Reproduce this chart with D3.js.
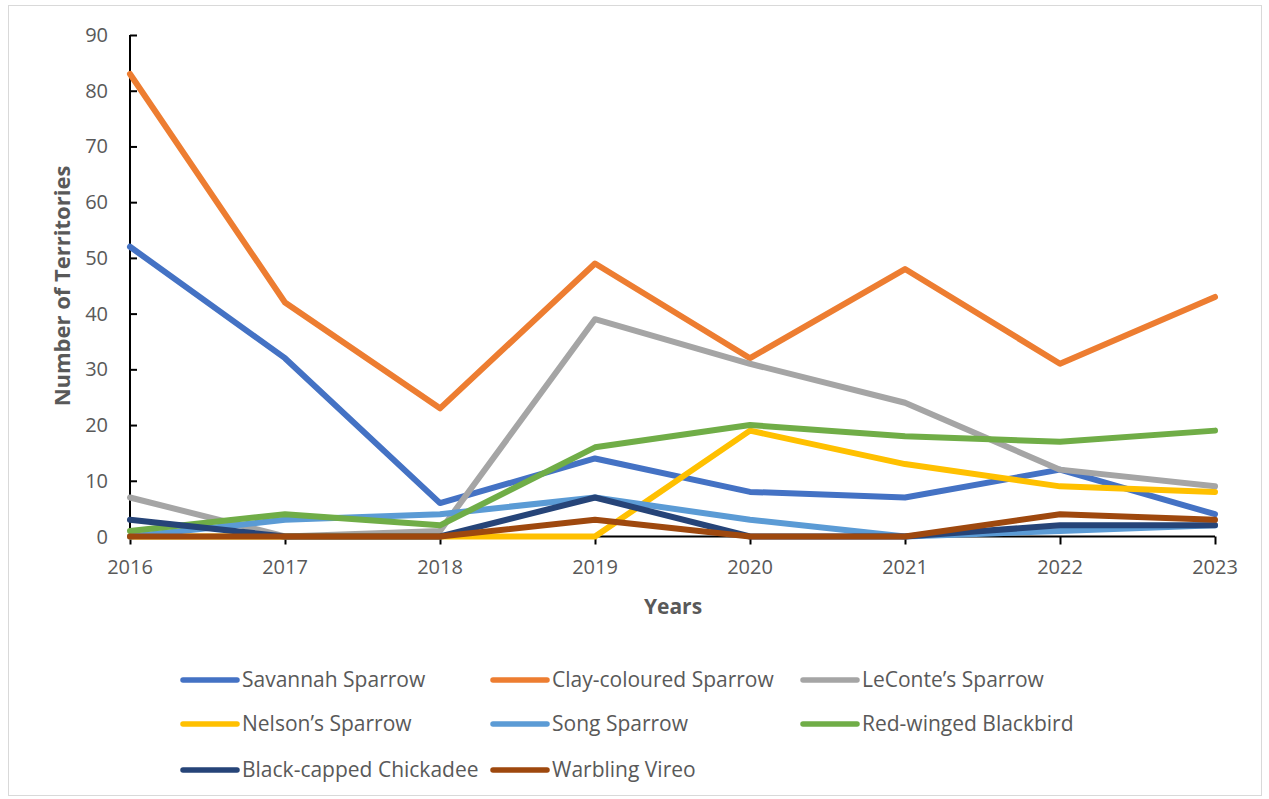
<!DOCTYPE html>
<html>
<head>
<meta charset="utf-8">
<script src="https://cdn.jsdelivr.net/npm/d3@7"></script>
<style>
  html, body { margin: 0; padding: 0; background: #fff; }
  svg { display: block; }
</style>
</head>
<body>
<script>
// Survey years and territory counts per species
const years = [2016, 2017, 2018, 2019, 2020, 2021, 2022, 2023];
const yTicks = [0, 10, 20, 30, 40, 50, 60, 70, 80, 90];

const savannahSparrow     = [52, 32, 6, 14, 8, 7, 12, 4];
const clayColouredSparrow = [83, 42, 23, 49, 32, 48, 31, 43];
const leContesSparrow     = [7, 0, 1, 39, 31, 24, 12, 9];
const nelsonsSparrow      = [0, 0, 0, 0, 19, 13, 9, 8];
const songSparrow         = [0, 3, 4, 7, 3, 0, 1, 2];
const redWingedBlackbird  = [1, 4, 2, 16, 20, 18, 17, 19];
const blackCappedChickadee = [3, 0, 0, 7, 0, 0, 2, 2];
const warblingVireo       = [0, 0, 0, 3, 0, 0, 4, 3];

const seriesNames = ["Savannah Sparrow", "Clay-coloured Sparrow", "LeConte\u2019s Sparrow",
  "Nelson\u2019s Sparrow", "Song Sparrow", "Red-winged Blackbird",
  "Black-capped Chickadee", "Warbling Vireo"];
const seriesValues = [savannahSparrow, clayColouredSparrow, leContesSparrow, nelsonsSparrow,
  songSparrow, redWingedBlackbird, blackCappedChickadee, warblingVireo];
const seriesColors = ["#4472C4", "#ED7D31", "#A5A5A5", "#FFC000",
  "#5B9BD5", "#70AD47", "#264478", "#9E480E"];

const W = 1269, H = 799;
const font = "'Open Sans', sans-serif";
const textColor = "#595959";

const svg = d3.select("body").append("svg").attr("width", W).attr("height", H);

// chart frame
svg.append("rect").attr("x", 8.5).attr("y", 5.5).attr("width", 1253).attr("height", 790)
  .attr("fill", "#fff").attr("stroke", "#d9d9d9").attr("stroke-width", 1);

const x = d3.scaleLinear().domain([2016, 2023]).range([130, 1215]);
const y = d3.scaleLinear().domain([0, 90]).range([536.5, 35]);

// y axis (ticks point into the plot)
const yAxis = svg.append("g").attr("transform", "translate(130,0)")
  .call(d3.axisRight(y).tickValues(yTicks).tickSize(7).tickFormat(""));
yAxis.select(".domain").attr("stroke", "#000").attr("stroke-width", 2).attr("d", `M0,${y(90)}V${y(0)}`);
yAxis.selectAll(".tick line").attr("stroke", "#000").attr("stroke-width", 2);

svg.append("g").selectAll("text").data(yTicks).join("text")
  .attr("x", 108).attr("y", d => y(d)).attr("dy", "0.35em")
  .attr("text-anchor", "end").attr("font-family", font).attr("font-size", 20)
  .attr("fill", textColor).text(d => d);

// x axis (ticks point outward)
const xAxis = svg.append("g").attr("transform", `translate(0,${y(0)})`)
  .call(d3.axisBottom(x).tickValues(years).tickSize(8).tickFormat(""));
xAxis.select(".domain").attr("stroke", "#000").attr("stroke-width", 2).attr("d", `M${x(2016)},0H${x(2023)}`);
xAxis.selectAll(".tick line").attr("stroke", "#000").attr("stroke-width", 2);

svg.append("g").selectAll("text").data(years).join("text")
  .attr("x", d => x(d)).attr("y", 567).attr("dy", "0.35em")
  .attr("text-anchor", "middle").attr("font-family", font).attr("font-size", 20)
  .attr("fill", textColor).text(d => d);

// axis titles
svg.append("text").attr("x", 673).attr("y", 607).attr("dy", "0.35em")
  .attr("text-anchor", "middle").attr("font-family", font).attr("font-size", 21)
  .attr("font-weight", "bold").attr("fill", textColor).text("Years");
svg.append("text").attr("transform", "translate(62,286) rotate(-90)").attr("dy", "0.35em")
  .attr("text-anchor", "middle").attr("font-family", font).attr("font-size", 22)
  .attr("font-weight", "bold").attr("fill", textColor).text("Number of Territories");

// series lines
const line = d3.line().x((d, i) => x(years[i])).y(d => y(d));
svg.append("g").selectAll("path").data(seriesValues).join("path")
  .attr("d", d => line(d)).attr("fill", "none")
  .attr("stroke", (d, i) => seriesColors[i]).attr("stroke-width", 6)
  .attr("stroke-linejoin", "round").attr("stroke-linecap", "round");

// legend
const legendCols = [183, 493, 803];
const legendRows = [680, 724, 770];
const lg = svg.append("g").selectAll("g").data(seriesNames).join("g")
  .attr("transform", (d, i) => `translate(${legendCols[i % 3]},${legendRows[Math.floor(i / 3)]})`);
lg.append("line").attr("x1", 0).attr("x2", 54).attr("y1", 0).attr("y2", 0)
  .attr("stroke", (d, i) => seriesColors[i]).attr("stroke-width", 5.5).attr("stroke-linecap", "round");
lg.append("text").attr("x", 59).attr("y", 0).attr("dy", "0.35em")
  .attr("font-family", font).attr("font-size", 21).attr("fill", textColor).text(d => d);
</script>
</body>
</html>
